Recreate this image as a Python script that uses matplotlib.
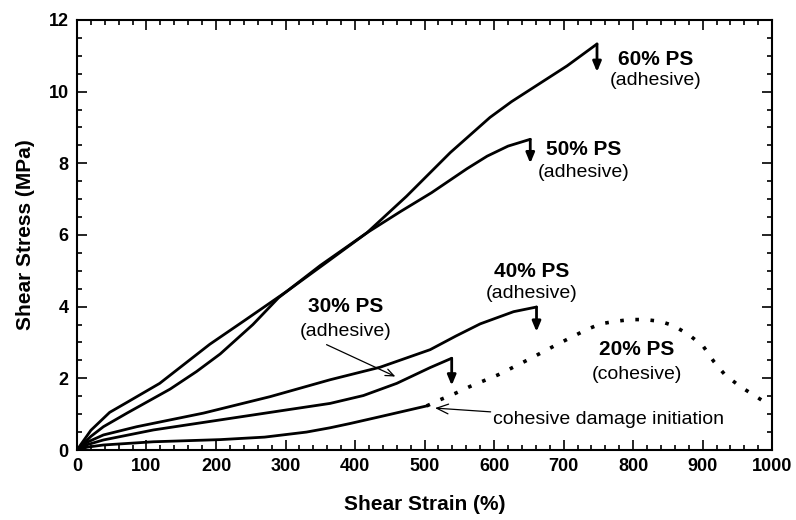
import matplotlib
matplotlib.use("Agg")
import matplotlib.pyplot as plt
from matplotlib.ticker import MultipleLocator

plt.rcParams['font.family'] = ['Liberation Sans', 'DejaVu Sans']

# shear strain (%) vs shear stress (MPa)
x60 = [0, 20, 38, 72, 134, 172, 206, 253, 290, 350, 417, 474, 537, 594, 625, 657, 705, 748]
y60 = [0, 0.38, 0.65, 1.03, 1.70, 2.19, 2.68, 3.5, 4.25, 5.15, 6.06, 7.08, 8.3, 9.28, 9.72, 10.12, 10.72, 11.33]
x50 = [0, 20, 47, 72, 119, 191, 240, 302, 360, 417, 465, 510, 561, 590, 620, 652]
y50 = [0, 0.55, 1.05, 1.33, 1.86, 2.95, 3.6, 4.43, 5.25, 6.06, 6.65, 7.18, 7.85, 8.2, 8.48, 8.67]
x40 = [0, 15, 38, 86, 182, 278, 364, 436, 508, 545, 580, 628, 661]
y40 = [0, 0.22, 0.42, 0.65, 1.03, 1.49, 1.96, 2.31, 2.8, 3.18, 3.52, 3.86, 3.99]
x30 = [0, 15, 38, 110, 206, 302, 364, 412, 460, 508, 539]
y30 = [0, 0.15, 0.28, 0.56, 0.84, 1.12, 1.3, 1.52, 1.86, 2.3, 2.56]
x20 = [0, 15, 38, 110, 206, 270, 330, 364, 393, 436, 503]
y20 = [0, 0.08, 0.14, 0.23, 0.29, 0.36, 0.5, 0.62, 0.74, 0.93, 1.23]
# dotted continuation of 20% PS after damage initiation
x20d = [503, 522, 544, 565, 606, 649, 690, 733, 753, 774, 796, 817, 839, 858, 880, 901, 916, 932, 954, 973, 997]
y20d = [1.23, 1.4, 1.58, 1.77, 2.1, 2.52, 2.94, 3.36, 3.52, 3.59, 3.64, 3.64, 3.59, 3.47, 3.22, 2.89, 2.47, 2.1, 1.77, 1.54, 1.24]

# failure drop (arrow tip) for adhesive samples
drop60 = 10.55
drop50 = 8.0
drop40 = 3.3
drop30 = 1.8

fig = plt.figure(figsize=(7.96, 5.2), dpi=100)
ax = fig.add_axes([0.0967, 0.1346, 0.8734, 0.827])

lw = 2.0
for xs, ys in [(x60, y60), (x50, y50), (x40, y40), (x30, y30), (x20, y20)]:
    ax.plot(xs, ys, color="black", lw=lw, solid_joinstyle="round", solid_capstyle="round")
ax.plot(x20d, y20d, color="black", lw=2.6, linestyle=(0, (1.0, 3.2)))

arrow = dict(arrowstyle="-|>,head_length=0.6,head_width=0.25", color="black", lw=2.0, shrinkA=0, shrinkB=0)
for xs, ys, d in [(x60, y60, drop60), (x50, y50, drop50), (x40, y40, drop40), (x30, y30, drop30)]:
    ax.annotate("", xy=(xs[-1], d), xytext=(xs[-1], ys[-1]), arrowprops=arrow)

big = dict(fontsize=15, fontweight="bold", ha="center", va="center")
small = dict(fontsize=14, ha="center", va="center")
ax.text(832, 10.9, "60% PS", **big)
ax.text(832, 10.3, "(adhesive)", **small)
ax.text(729, 8.39, "50% PS", **big)
ax.text(729, 7.74, "(adhesive)", **small)
ax.text(654, 4.99, "40% PS", **big)
ax.text(654, 4.38, "(adhesive)", **small)
ax.text(386, 4.01, "30% PS", **big)
ax.text(386, 3.31, "(adhesive)", **small)
ax.text(805, 2.8, "20% PS", **big)
ax.text(805, 2.1, "(cohesive)", **small)

thin = dict(arrowstyle="->,head_length=0.6,head_width=0.25", color="black", lw=0.9, shrinkA=0, shrinkB=0)
ax.annotate("", xy=(458, 2.05), xytext=(359, 2.94), arrowprops=thin)
ax.annotate("cohesive damage initiation", xy=(515, 1.17), xytext=(599, 0.84),
            fontsize=14, ha="left", va="center", arrowprops=thin)

ax.set_xlim(0, 1000)
ax.set_ylim(0, 12)
ax.xaxis.set_major_locator(MultipleLocator(100))
ax.xaxis.set_minor_locator(MultipleLocator(20))
ax.yaxis.set_major_locator(MultipleLocator(2))
ax.yaxis.set_minor_locator(MultipleLocator(0.5))
ax.tick_params(which="both", direction="in", top=True, right=True, width=1.2)
ax.tick_params(which="major", length=7, labelsize=13, pad=6)
ax.tick_params(which="minor", length=3.5)
for lab in ax.get_xticklabels() + ax.get_yticklabels():
    lab.set_fontweight("bold")
for s in ax.spines.values():
    s.set_linewidth(1.5)

ax.set_xlabel("Shear Strain (%)", fontsize=15, fontweight="bold", labelpad=14)
ax.set_ylabel("Shear Stress (MPa)", fontsize=15, fontweight="bold", labelpad=10)

fig.savefig("out.png", dpi=100)
